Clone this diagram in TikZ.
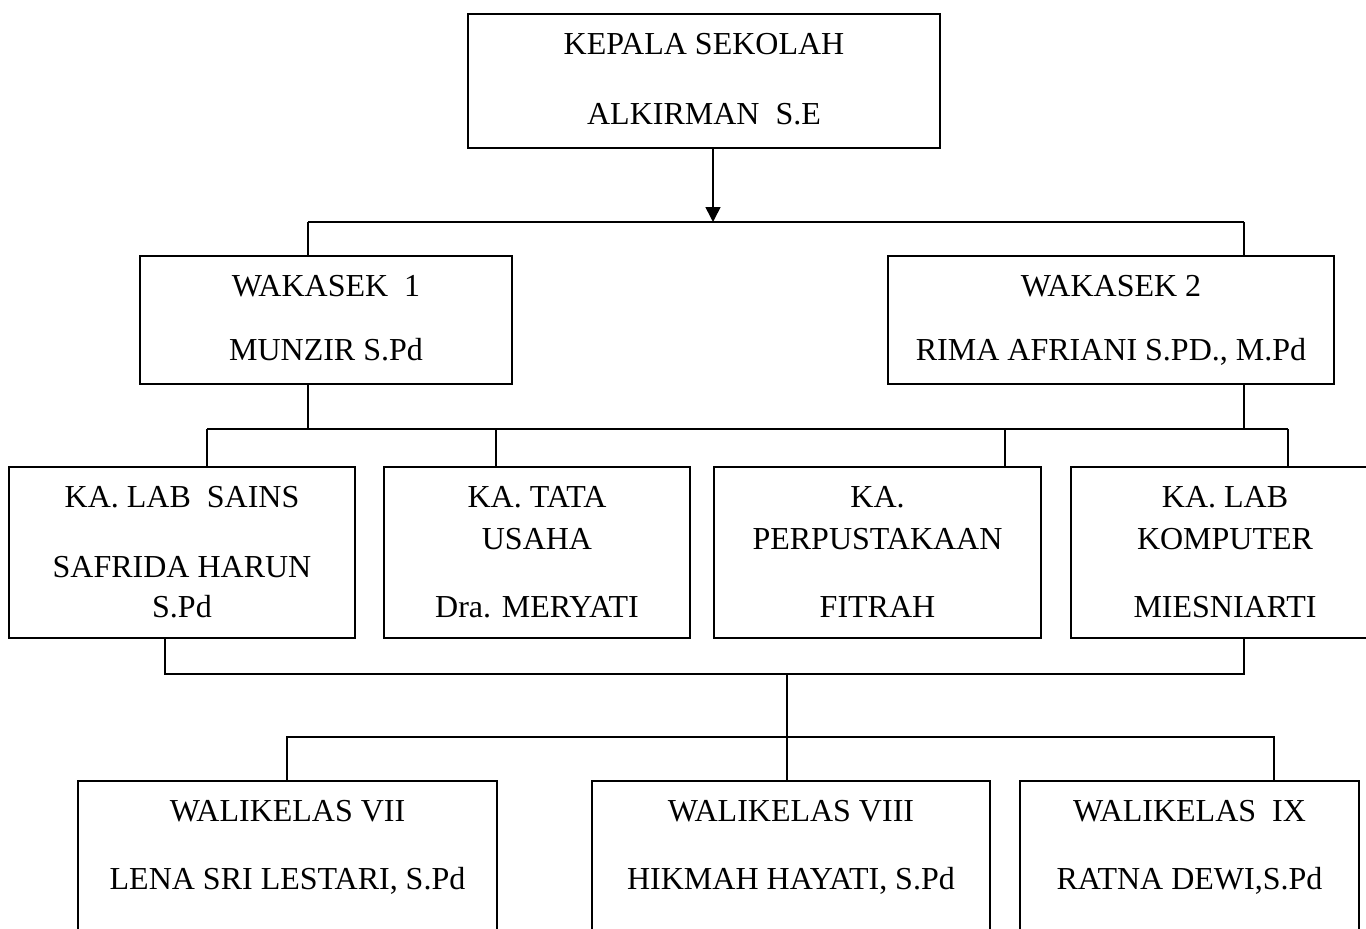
\documentclass[tikz,border=0pt]{standalone}
\usepackage{fontspec}
\setmainfont{Liberation Serif}
\usetikzlibrary{arrows.meta}

\begin{document}
\begin{tikzpicture}[x=1pt, y=-1pt, line width=1.6pt,
  box/.style={draw, rectangle, inner sep=0pt, line width=1.8pt},
  txt/.style={anchor=base, inner sep=0pt, font=\fontsize{32}{38}\selectfont}]
  \useasboundingbox (0,0) rectangle (1366,929);
  \clip (0,0) rectangle (1366,929);
  % Boxes
  \node[box, minimum width=472pt, minimum height=134pt] (kepsek) at (704,81) {};
  \node[box, minimum width=372pt, minimum height=128pt] (wk1) at (326,320) {};
  \node[box, minimum width=446pt, minimum height=128pt] (wk2) at (1111,320) {};
  \node[box, minimum width=346pt, minimum height=171pt] (lab) at (182,552.5) {};
  \node[box, minimum width=306pt, minimum height=171pt] (tu) at (537,552.5) {};
  \node[box, minimum width=327pt, minimum height=171pt] (perpus) at (877.5,552.5) {};
  \node[box, minimum width=308pt, minimum height=171pt] (labkom) at (1225,552.5) {};
  \node[box, minimum width=419pt, minimum height=179pt] (wk7) at (287.5,870.5) {};
  \node[box, minimum width=398pt, minimum height=179pt] (wk8) at (791,870.5) {};
  \node[box, minimum width=339pt, minimum height=179pt] (wk9) at (1189.5,870.5) {};
  % Texts
  \node[txt] (t1) at (704,54) {KEPALA SEKOLAH};
  \node[txt] (t2) at (704,124) {ALKIRMAN\ \ S.E};
  \node[txt] (t3) at (326,296) {WAKASEK\ \ 1};
  \node[txt] (t4) at (326,360) {MUNZIR S.Pd};
  \node[txt] (t5) at (1111,296) {WAKASEK 2};
  \node[txt] (t6) at (1111,360) {RIMA AFRIANI S.PD., M.Pd};
  \node[txt] (t7) at (182,507) {KA. LAB\ \ SAINS};
  \node[txt] (t8) at (182,577) {SAFRIDA HARUN};
  \node[txt] (t9) at (182,617) {S.Pd};
  \node[txt] (t10) at (537,507) {KA. TATA};
  \node[txt] (t11) at (537,549) {USAHA};
  \node[txt] (t12) at (537,617) {Dra. MERYATI};
  \node[txt] (t13) at (877.5,507) {KA.};
  \node[txt] (t14) at (877.5,549) {PERPUSTAKAAN};
  \node[txt] (t15) at (877.5,617) {FITRAH};
  \node[txt] (t16) at (1225,507) {KA. LAB};
  \node[txt] (t17) at (1225,549) {KOMPUTER};
  \node[txt] (t18) at (1225,617) {MIESNIARTI};
  \node[txt] (t19) at (287.5,821) {WALIKELAS VII};
  \node[txt] (t20) at (287.5,889) {LENA SRI LESTARI, S.Pd};
  \node[txt] (t21) at (791,821) {WALIKELAS VIII};
  \node[txt] (t22) at (791,889) {HIKMAH HAYATI, S.Pd};
  \node[txt] (t23) at (1189.5,821) {WALIKELAS\ \ IX};
  \node[txt] (t24) at (1189.5,889) {RATNA DEWI,S.Pd};
  % Kepala sekolah to wakasek
  \coordinate (top) at (713,222);
  \coordinate (b1l) at (308,222);
  \coordinate (b1r) at (1244,222);
  \draw[-{Triangle[length=15pt,width=15pt]}] (top |- kepsek.south) -- (top);
  \draw (b1l) -- (b1r);
  \draw (b1l) -- (b1l |- wk1.north);
  \draw (b1r) -- (b1r |- wk2.north);
  % Wakasek to kepala unit
  \coordinate (b2l) at (207,429);
  \coordinate (b2r) at (1288,429);
  \draw (b2l) -- (b2r);
  \draw (b1l |- wk1.south) -- (b1l |- b2l);
  \draw (b1r |- wk2.south) -- (b1r |- b2l);
  \foreach \x/\n in {207/lab, 496/tu, 1005/perpus, 1288/labkom} {
    \coordinate (r\n) at (\x,429);
    \draw (r\n) -- (r\n |- \n.north);
  }
  % Kepala unit to walikelas
  \coordinate (b3l) at (165,674);
  \coordinate (b3r) at (1244,674);
  \coordinate (mid) at (787,674);
  \draw (b3l |- lab.south) -- (b3l) -- (b3r) -- (b3r |- labkom.south);
  \draw[line width=2.6pt] (b3l) -- (b3r);
  \draw (mid) -- (mid |- wk8.north);
  \coordinate (b4l) at (287,737);
  \coordinate (b4r) at (1274,737);
  \draw (b4l |- wk7.north) -- (b4l) -- (b4r) -- (b4r |- wk9.north);
\end{tikzpicture}
\end{document}
